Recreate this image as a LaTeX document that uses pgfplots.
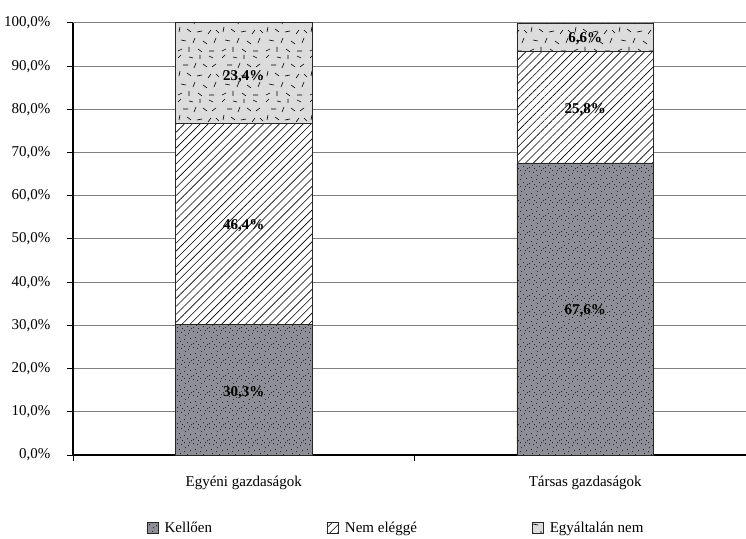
\documentclass[border=0pt]{standalone}
\usepackage{fontspec}
\setmainfont{Liberation Serif}
\usepackage{pgfplots}
\pgfplotsset{compat=1.18}
\usetikzlibrary{patterns,patterns.meta}

\definecolor{kellfill}{RGB}{142,142,150}
\definecolor{topfill}{RGB}{220,220,220}

\pgfdeclarepatternformonly{mydots}{\pgfpoint{-1pt}{-1pt}}{\pgfpoint{17pt}{17pt}}{\pgfpoint{16pt}{16pt}}{
  \pgfpathrectangle{\pgfpoint{1pt}{2pt}}{\pgfpoint{0.9pt}{0.9pt}}
  \pgfpathrectangle{\pgfpoint{6pt}{1pt}}{\pgfpoint{0.9pt}{0.9pt}}
  \pgfpathrectangle{\pgfpoint{11pt}{3pt}}{\pgfpoint{0.9pt}{0.9pt}}
  \pgfpathrectangle{\pgfpoint{14pt}{7pt}}{\pgfpoint{0.9pt}{0.9pt}}
  \pgfpathrectangle{\pgfpoint{3pt}{8pt}}{\pgfpoint{0.9pt}{0.9pt}}
  \pgfpathrectangle{\pgfpoint{8pt}{6pt}}{\pgfpoint{0.9pt}{0.9pt}}
  \pgfpathrectangle{\pgfpoint{12pt}{12pt}}{\pgfpoint{0.9pt}{0.9pt}}
  \pgfpathrectangle{\pgfpoint{5pt}{13pt}}{\pgfpoint{0.9pt}{0.9pt}}
  \pgfpathrectangle{\pgfpoint{9pt}{10pt}}{\pgfpoint{0.9pt}{0.9pt}}
  \pgfpathrectangle{\pgfpoint{1pt}{14pt}}{\pgfpoint{0.9pt}{0.9pt}}
  \pgfpathrectangle{\pgfpoint{15pt}{1pt}}{\pgfpoint{0.9pt}{0.9pt}}
  \pgfpathrectangle{\pgfpoint{8pt}{15pt}}{\pgfpoint{0.9pt}{0.9pt}}
  \pgfpathrectangle{\pgfpoint{13pt}{15pt}}{\pgfpoint{0.9pt}{0.9pt}}
  \pgfpathrectangle{\pgfpoint{4pt}{4pt}}{\pgfpoint{0.9pt}{0.9pt}}
  \pgfusepath{fill}
}

\pgfdeclarepatternformonly{dashmix}{\pgfpoint{-1pt}{-1pt}}{\pgfpoint{45pt}{45pt}}{\pgfpoint{44pt}{44pt}}{
  \pgfsetlinewidth{0.6pt}
  \pgfpathmoveto{\pgfpoint{2pt}{3pt}}\pgfpathlineto{\pgfpoint{6pt}{5pt}}
  \pgfpathmoveto{\pgfpoint{13pt}{2pt}}\pgfpathlineto{\pgfpoint{13pt}{7pt}}
  \pgfpathmoveto{\pgfpoint{22pt}{5pt}}\pgfpathlineto{\pgfpoint{26pt}{2pt}}
  \pgfpathmoveto{\pgfpoint{33pt}{3pt}}\pgfpathlineto{\pgfpoint{38pt}{3pt}}
  \pgfpathmoveto{\pgfpoint{5pt}{14pt}}\pgfpathlineto{\pgfpoint{10pt}{13pt}}
  \pgfpathmoveto{\pgfpoint{17pt}{11pt}}\pgfpathlineto{\pgfpoint{19pt}{16pt}}
  \pgfpathmoveto{\pgfpoint{27pt}{13pt}}\pgfpathlineto{\pgfpoint{31pt}{10pt}}
  \pgfpathmoveto{\pgfpoint{38pt}{11pt}}\pgfpathlineto{\pgfpoint{40pt}{16pt}}
  \pgfpathmoveto{\pgfpoint{3pt}{22pt}}\pgfpathlineto{\pgfpoint{4pt}{27pt}}
  \pgfpathmoveto{\pgfpoint{11pt}{25pt}}\pgfpathlineto{\pgfpoint{15pt}{22pt}}
  \pgfpathmoveto{\pgfpoint{21pt}{22pt}}\pgfpathlineto{\pgfpoint{26pt}{23pt}}
  \pgfpathmoveto{\pgfpoint{32pt}{20pt}}\pgfpathlineto{\pgfpoint{35pt}{24pt}}
  \pgfpathmoveto{\pgfpoint{40pt}{24pt}}\pgfpathlineto{\pgfpoint{43pt}{21pt}}
  \pgfpathmoveto{\pgfpoint{7pt}{33pt}}\pgfpathlineto{\pgfpoint{12pt}{33pt}}
  \pgfpathmoveto{\pgfpoint{18pt}{30pt}}\pgfpathlineto{\pgfpoint{20pt}{35pt}}
  \pgfpathmoveto{\pgfpoint{27pt}{34pt}}\pgfpathlineto{\pgfpoint{31pt}{31pt}}
  \pgfpathmoveto{\pgfpoint{36pt}{31pt}}\pgfpathlineto{\pgfpoint{40pt}{34pt}}
  \pgfpathmoveto{\pgfpoint{2pt}{40pt}}\pgfpathlineto{\pgfpoint{5pt}{43pt}}
  \pgfpathmoveto{\pgfpoint{13pt}{41pt}}\pgfpathlineto{\pgfpoint{17pt}{40pt}}
  \pgfpathmoveto{\pgfpoint{24pt}{39pt}}\pgfpathlineto{\pgfpoint{24pt}{43pt}}
  \pgfpathmoveto{\pgfpoint{33pt}{42pt}}\pgfpathlineto{\pgfpoint{37pt}{40pt}}
  \pgfusepath{stroke}
}

\pgfplotstableread{
x kell nem egyalt
0 30.3 46.4 23.4
1 67.6 25.8 6.6
}\maindata

\pgfplotstableread{
x y v
0 14.5 30.3
0 53.0 46.4
0 87.5 23.4
1 33.3 67.6
1 80.0 25.8
1 96.3 6.6
}\labeldata

\begin{document}
\begin{tikzpicture}
\useasboundingbox (-73pt,-83pt) rectangle (673pt,455pt);
\pgfplotsset{base/.style={at={(0pt,0pt)}, anchor=south west, scale only axis,
  width=673pt, height=432pt, xmin=-0.5, xmax=1.4707, ymin=0, ymax=100}}
\begin{axis}[base,
  ybar stacked, bar width=0.4,
  axis x line=bottom, axis y line=left,
  axis line style={-, black, line width=1.1pt},
  tick align=outside,
  ytick={0,10,...,100},
  yticklabel={\pgfmathprintnumber[fixed,fixed zerofill,precision=1,use comma]{\tick}\%},
  yticklabel style={xshift=-13pt},
  /pgf/number format/assume math mode=true,
  ymajorgrids, grid style={gray, line width=1pt},
  major tick length=6pt,
  ytick style={black, line width=1pt},
  xtick={-0.5,0.5},
  xticklabels={},
  xtick style={black, line width=1pt},
  xmajorgrids=false,
  extra x ticks={0,1},
  extra x tick labels={Egyéni gazdaságok, Társas gazdaságok},
  extra x tick style={grid=none, major tick length=0pt,
     xticklabel style={yshift=-18pt}},
  tick label style={font=\fontsize{15}{17}\selectfont},
  legend columns=3,
  legend style={draw=none, fill=none, at={(0.105,-0.169)}, anchor=west,
    font=\fontsize{15}{17}\selectfont,
    /tikz/every odd column/.append style={column sep=4pt},
    /tikz/every even column/.append style={column sep=113pt}},
  legend image code/.code={\draw[#1] (0pt,-5.5pt) rectangle (11pt,5.5pt);},
]
\addplot[fill=kellfill, draw=black!85, line width=0.8pt, postaction={pattern=mydots, pattern color=black!85}] table[x=x,y=kell]{\maindata};
\addlegendentry{Kellően}
\addplot[fill=white, draw=black!85, line width=0.8pt, postaction={pattern={Lines[angle=45,distance=5.6pt,line width=0.6pt]}, pattern color=black}] table[x=x,y=nem]{\maindata};
\addlegendentry{Nem eléggé}
\addplot[fill=topfill, draw=black!85, line width=0.8pt, postaction={pattern=dashmix, pattern color=black}] table[x=x,y=egyalt]{\maindata};
\addlegendentry{Egyáltalán nem}
\end{axis}
\begin{axis}[base, hide axis]
\addplot[draw=none, mark=none, point meta=explicit,
  nodes near coords={\pgfmathprintnumber[fixed,fixed zerofill,precision=1,use comma,assume math mode=true]{\pgfplotspointmeta}\%},
  every node near coord/.append style={anchor=center, font=\bfseries\fontsize{15}{17}\selectfont}]
  table[x=x,y=y,meta=v]{\labeldata};
\end{axis}
\end{tikzpicture}
\end{document}
